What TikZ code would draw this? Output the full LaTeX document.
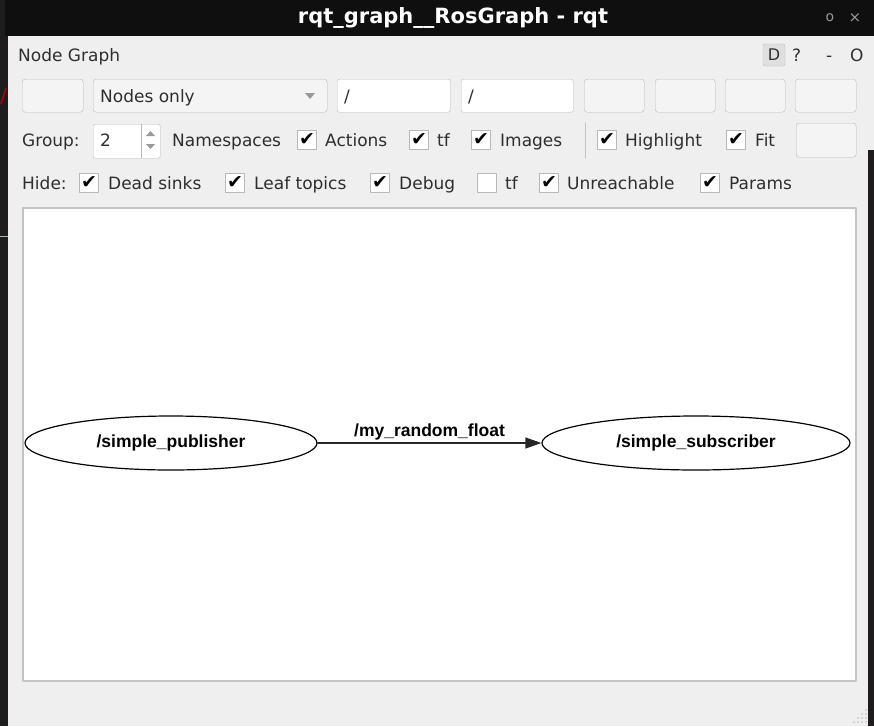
\documentclass[tikz,border=0pt]{standalone}
\usepackage{fontspec}
\setmainfont{DejaVu Sans}
\newfontfamily\gvfont{Liberation Sans}
\usetikzlibrary{shapes.geometric,arrows.meta,positioning}
\definecolor{deskbg}{HTML}{1E1C1C}
\definecolor{titlebg}{HTML}{0F0F0F}
\definecolor{winbg}{HTML}{EFEFEF}
\definecolor{uitext}{HTML}{2E2E2E}
\definecolor{btnline}{HTML}{B9B9B9}
\definecolor{btnfill}{HTML}{F4F4F4}
\definecolor{frameline}{HTML}{C4C4C4}
\begin{document}
\begin{tikzpicture}[x=1pt, y=-1pt, line join=round, line cap=round,
    ui/.style={anchor=base west, inner sep=0, text=uitext, font=\fontsize{17}{20}\selectfont},
    btn/.style={anchor=north west, draw=btnline, fill=btnfill, rounded corners=3pt, minimum height=33pt, inner sep=0},
    field/.style={btn, fill=white, rounded corners=2pt},
    chk/.style={draw=btnline, fill=white, minimum size=19pt, inner sep=0, text=black, font=\fontsize{19}{19}\selectfont},
    rosnode/.style={ellipse, draw=black, line width=1.2pt, minimum height=54pt, inner sep=0, font=\gvfont\bfseries\fontsize{17.5}{20}\selectfont},
    >={Triangle[length=16pt,width=11pt]}]
    \useasboundingbox (0,0) rectangle (874,726);
    % desktop behind the window
    \fill[deskbg] (0,0) rectangle (874,726);
    \draw[red!70!black, line width=1.5pt] (1,104) -- (6,88);
    \draw[gray!60, line width=1pt] (0,236) -- (8,236);
    % window
    \fill[titlebg] (5,0) rectangle (874,36);
    \fill[winbg] (8,36) rectangle (874,726);
    \fill[deskbg] (868,150) rectangle (874,726);
    \node[text=white, font=\bfseries\fontsize{21}{24}\selectfont] (title) at (453,18) {rqt\_graph\_\_RosGraph - rqt};
    \node[text=gray!80, font=\fontsize{14}{14}\selectfont] (wmin) at (830,18) {o};
    \node[text=gray!80, font=\fontsize{15}{15}\selectfont] (wclose) at (855,18) {×};
    \node[ui] (plugin) at (18,61) {Node Graph};
    \node[draw=btnline, fill=gray!25, rounded corners=2pt, minimum size=22pt, inner sep=0, text=uitext, font=\fontsize{16}{16}\selectfont] (dbtn) at (774,55) {D};
    \node[ui] (help) at (792,61) {?};
    \node[ui] (dash) at (826,61) {-};
    \node[ui] (close) at (850,61) {O};
    % toolbar row
    \node[btn, minimum width=61pt] (refresh) at (22,79) {};
    \node[btn, minimum width=234pt] (mode) at (93,79) {};
    \node[ui] (modetext) at (100,102) {Nodes only};
    \fill[gray!80] (305,93) -- (315,93) -- (310,99) -- cycle;
    \node[field, minimum width=113pt] (nsfilter) at (337,79) {};
    \node[ui] (nstext) at (344,102) {/};
    \node[field, minimum width=112pt] (topicfilter) at (461,79) {};
    \node[ui] (topictext) at (468,102) {/};
    \node[btn, minimum width=60pt] (load) at (584,79) {};
    \node[btn, minimum width=60pt] (save) at (655,79) {};
    \node[btn, minimum width=60pt] (svg) at (725,79) {};
    \node[btn, minimum width=61pt] (image) at (795,79) {};
    % group row
    \node[ui] (group) at (22,146) {Group:};
    \node[field, minimum width=67pt, minimum height=34pt] (spin) at (93,124) {};
    \node[ui] (spintext) at (100,146) {2};
    \draw[btnline] (141,124) -- (141,158);
    \fill[gray!80] (146,136) -- (155,136) -- (150.5,131) -- cycle;
    \fill[gray!80] (146,144) -- (155,144) -- (150.5,149) -- cycle;
    \draw[frameline, line width=1pt] (585,123) -- (585,158);
    \node[btn, minimum width=60pt, minimum height=34pt] (fitbtn) at (796,123) {};
    \foreach \cx/\n in {307/actions, 419/tfa, 481/images, 607/highlight, 736/fit}
        \node[chk] (chk-\n) at (\cx,140) {✔};
    \foreach \lx/\t in {172/Namespaces, 325/Actions, 437/tf, 500/Images, 625/Highlight, 755/Fit}
        \node[ui] at (\lx,146) {\t};
    % hide row
    \node[ui] (hide) at (22,189) {Hide:};
    \foreach \cx/\n in {89/deadsinks, 235/leaftopics, 380/debug, 549/unreachable, 710/params}
        \node[chk] (chk-\n) at (\cx,183) {✔};
    \node[chk] (chk-tfb) at (487,183) {};
    \foreach \lx/\t in {108/Dead sinks, 254/Leaf topics, 399/Debug, 505/tf, 567/Unreachable, 729/Params}
        \node[ui] at (\lx,189) {\t};
    % graph view
    \draw[frameline, fill=white, line width=1.2pt] (23,208) rectangle (856,681);
    \node[rosnode, minimum width=292pt] (pub) at (171,443) {/simple\_publisher};
    \node[rosnode, minimum width=308pt] (sub) at (696,443) {/simple\_subscriber};
    \draw[->, line width=1.2pt, black!85] (pub) -- node[above=1pt, text=black, inner sep=1pt, font=\gvfont\bfseries\fontsize{17.5}{20}\selectfont] (topic) {/my\_random\_float} (sub);
    % resize grip
    \foreach \i in {0,...,3}
        \foreach \j in {0,...,\i}
            \fill[gray!55] (866-4*\j,722-4*\i+4*\j) circle (0.8);
\end{tikzpicture}
\end{document}
